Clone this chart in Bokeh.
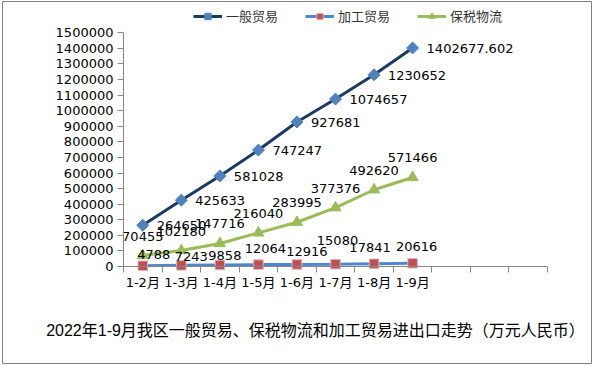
from bokeh.plotting import figure
from bokeh.models import (Range1d, FixedTicker, NumeralTickFormatter, Legend, LegendItem,
                          Label, ColumnDataSource)
from bokeh.core.properties import value
from bokeh.embed import file_html
from bokeh.resources import INLINE

# ---------------- data ----------------
months = ["1-2月", "1-3月", "1-4月", "1-5月", "1-6月", "1-7月", "1-8月", "1-9月"]
general_trade = [264650, 425633, 581028, 747247, 927681, 1074657, 1230652, 1402677.602]
processing_trade = [4788, 7243, 9858, 12064, 12916, 15080, 17841, 20616]
bonded_logistics = [70455, 102180, 147716, 216040, 283995, 377376, 492620, 571466]
y_ticks = list(range(0, 1500001, 100000))
series_names = ["一般贸易", "加工贸易", "保税物流"]
title_text = "2022年1-9月我区一般贸易、保税物流和加工贸易进出口走势（万元人民币）"

# ---------------- layout / styling (pixels) ----------------
W, H = 596, 366
BOX_L, BOX_T, BOX_R, BOX_B = 2, 1, 591, 363      # outer grey border = plot frame
AX_L, AX_R, AX_T, AX_B = 123, 547, 32.3, 266      # value axes area inside the border
N_SLOTS = 11
NUM_FONT = "DejaVu Sans"
CJK_FONT = "Noto Sans CJK SC"
AXIS_GRAY = "#868686"

# per-label pixel offsets (processing trade labels were placed by hand in the original)
proc_dx = [11, 10, 5, 7, 10, 2, -4, 4]
proc_dy = [-11, -9, -9, -16, -13, -24, -16, -17]


def fmt(v):
    return str(int(v)) if float(v).is_integer() else repr(v)


xs = list(range(1, len(months) + 1))
x_lo, x_hi = 0.5, N_SLOTS + 0.5
y_lo, y_hi = y_ticks[0], y_ticks[-1]
xpp = (x_hi - x_lo) / (AX_R - AX_L)
ypp = (y_hi - y_lo) / (AX_B - AX_T)
x_range = Range1d(x_lo - (AX_L - BOX_L) * xpp, x_hi + (BOX_R - AX_R) * xpp)
y_range = Range1d(y_lo - (BOX_B - AX_B) * ypp, y_hi + (AX_T - BOX_T) * ypp)

src_g = ColumnDataSource(dict(x=xs, y=general_trade, t=[fmt(v) for v in general_trade]))
src_p = ColumnDataSource(dict(x=xs, y=processing_trade, t=[fmt(v) for v in processing_trade],
                              dx=proc_dx, dy=proc_dy))
src_b = ColumnDataSource(dict(x=xs, y=bonded_logistics, t=[fmt(v) for v in bonded_logistics]))

p = figure(width=W, height=H, output_backend="svg", toolbar_location=None,
           x_range=x_range, y_range=y_range,
           min_border_left=BOX_L, min_border_right=W - BOX_R,
           min_border_top=BOX_T, min_border_bottom=H - BOX_B)
p.outline_line_color = "#808080"
p.outline_line_width = 1
p.xgrid.grid_line_color = None
p.ygrid.grid_line_color = None
p.background_fill_color = "white"
p.border_fill_color = "white"

# axes (drawn inside the frame at the value origin)
yax = p.yaxis[0]
yax.fixed_location = x_lo
yax.bounds = (y_lo, y_hi)
yax.ticker = FixedTicker(ticks=y_ticks)
yax.formatter = NumeralTickFormatter(format="0")
yax.axis_line_color = AXIS_GRAY
yax.major_tick_line_color = AXIS_GRAY
yax.major_tick_out = 6
yax.major_tick_in = 0
yax.minor_tick_line_color = None
yax.major_label_standoff = 4
yax.major_label_text_font = NUM_FONT
yax.major_label_text_font_size = "13px"
yax.major_label_text_color = "black"

xax = p.xaxis[0]
xax.fixed_location = y_lo
xax.bounds = (x_lo, x_hi)
xax.ticker = FixedTicker(ticks=xs, minor_ticks=[i + 0.5 for i in range(N_SLOTS + 1)])
xax.major_label_overrides = {x: m for x, m in zip(xs, months)}
xax.axis_line_color = AXIS_GRAY
xax.major_tick_line_color = None
xax.major_tick_out = 0
xax.major_tick_in = 0
xax.minor_tick_line_color = AXIS_GRAY
xax.minor_tick_out = 6
xax.minor_tick_in = 0
xax.major_label_standoff = 2
xax.major_label_text_font = f"{NUM_FONT}, {CJK_FONT}"
xax.major_label_text_font_size = "13px"
xax.major_label_text_color = "black"

# series
lg = p.line("x", "y", source=src_g, line_color="#1B3A63", line_width=3)
mg = p.scatter("x", "y", source=src_g, marker="square", angle=0.785398, size=8.5,
               fill_color="#4F81BD", line_color="#4F81BD")
lp = p.line("x", "y", source=src_p, line_color="#5087CC", line_width=3)
mp = p.scatter("x", "y", source=src_p, marker="square", size=9.5,
               fill_color="#C0504D", line_color="#D9B3C3", line_width=1)
lb = p.line("x", "y", source=src_b, line_color="#9BBB59", line_width=3)
mb = p.scatter("x", "y", source=src_b, marker="triangle", size=11,
               fill_color="#9BBB59", line_color="#9BBB59")

# data labels
p.text("x", "y", text="t", source=src_g, x_offset=14, y_offset=0.5,
       text_align="left", text_baseline="middle",
       text_font=value(NUM_FONT), text_font_size="13px", text_color="black")
p.text("x", "y", text="t", source=src_p, x_offset="dx", y_offset="dy",
       text_align="center", text_baseline="middle",
       text_font=value(NUM_FONT), text_font_size="13px", text_color="black")
p.text("x", "y", text="t", source=src_b, x_offset=0, y_offset=-19.5,
       text_align="center", text_baseline="middle",
       text_font=value(NUM_FONT), text_font_size="13px", text_color="black")

# legend at the top
legend = Legend(items=[LegendItem(label=series_names[0], renderers=[lg, mg]),
                       LegendItem(label=series_names[1], renderers=[lp, mp]),
                       LegendItem(label=series_names[2], renderers=[lb, mb])],
                orientation="horizontal", location=(193 - BOX_L, BOX_B - 25.3),
                padding=0, margin=0, spacing=27, label_standoff=4,
                glyph_width=29, glyph_height=16, label_height=16,
                label_text_font=CJK_FONT, label_text_font_size="13px",
                label_text_color="#333333",
                border_line_color=None, background_fill_alpha=0)
p.add_layout(legend, "center")

# caption below the chart
p.add_layout(Label(x=315 - BOX_L, y=BOX_B - 330, x_units="screen", y_units="screen",
                   text=title_text, text_align="center", text_baseline="middle",
                   text_font=f"Liberation Sans, {CJK_FONT}", text_font_size="16px",
                   text_color="black"))

open("out.html", "w").write(file_html(p, INLINE))
